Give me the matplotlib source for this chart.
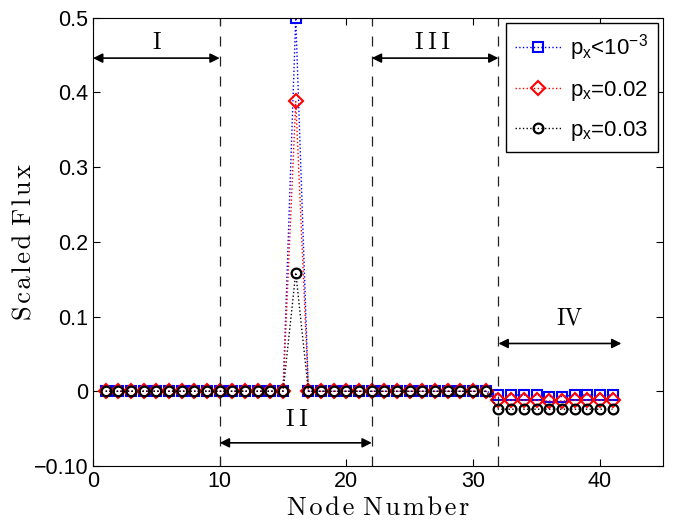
import numpy as np
import matplotlib
matplotlib.use("Agg")
import matplotlib.pyplot as plt

# node numbers and scaled flux for the three cases
nodes = np.arange(1, 42)
flux_small = [0.0] * 15 + [0.5] + [0.0] * 15 + [-0.005, -0.005, -0.005, -0.005, -0.007,
                                              -0.007, -0.005, -0.005, -0.005, -0.005]
flux_002 = [0.0] * 15 + [0.388] + [0.0] * 15 + [-0.012, -0.012, -0.012, -0.012, -0.013,
                                               -0.013, -0.012, -0.012, -0.012, -0.012]
flux_003 = [0.0] * 15 + [0.159] + [0.0] * 15 + [-0.024] * 10

labels = [r'$\mathregular{p_x}$<10$^{\mathregular{-3}}$',
          r'$\mathregular{p_x}$=0.02',
          r'$\mathregular{p_x}$=0.03']

# region boundaries and annotated spans
boundaries = [10, 22, 32]
regions = ['I', 'I\u2009I', 'I\u2009I\u2009I', 'IV']
region_spans = [(0, 10), (10, 22), (22, 32), (32, 41.7)]
arrow_y = [0.446, -0.069, 0.446, 0.064]
label_x = [5.0, 16.1, 26.8, 37.6]
label_y = [0.451, -0.053, 0.451, 0.083]

yticks = [-0.1, 0, 0.1, 0.2, 0.3, 0.4, 0.5]
ytick_labels = ['\u22120.10', '0', '0.1', '0.2', '0.3', '0.4', '0.5']
xticks = [0, 10, 20, 30, 40]

plt.rcParams['font.family'] = ['Liberation Sans', 'DejaVu Sans']
plt.rcParams['mathtext.fontset'] = 'custom'
plt.rcParams['mathtext.rm'] = 'Liberation Sans'
plt.rcParams['mathtext.it'] = 'Liberation Sans'

serif = ['cmr10', 'DejaVu Serif']


def spaced(s):
    # a little letter spacing inside each word
    return ' '.join('\u200a'.join(w) for w in s.split(' '))


fig = plt.figure(figsize=(6.74, 5.23), dpi=100)
ax = fig.add_axes([0.138, 0.109, 0.846, 0.857])

ax.plot(nodes, flux_small, ':', color='blue', marker='s', ms=7, mfc='none',
        mew=1.5, lw=1, label=labels[0])
ax.plot(nodes, flux_002, ':', color='red', marker='D', ms=7, mfc='none',
        mew=1.5, lw=1, label=labels[1])
ax.plot(nodes, flux_003, ':', color='black', marker='o', ms=7, mfc='none',
        mew=1.6, lw=1, label=labels[2])

for b in boundaries:
    ax.axvline(b, color='#222222', ls=(0, (8, 8)), lw=0.9)

for name, (x0, x1), ya, xl, yl in zip(regions, region_spans, arrow_y, label_x, label_y):
    ax.annotate('', xy=(x0, ya), xytext=(x1, ya),
                arrowprops=dict(arrowstyle='<|-|>', color='black', lw=1.2,
                                mutation_scale=14, shrinkA=0, shrinkB=0))
    ax.text(xl, yl, name, family=serif, fontsize=17, ha='center', va='bottom')

ax.set_xlim(0, 45)
ax.set_ylim(-0.1, 0.5)
ax.set_xticks(xticks)
ax.set_yticks(yticks)
ax.set_yticklabels(ytick_labels)
ax.tick_params(direction='in', top=True, right=True, labelsize=15.5, length=5)

ax.set_xlabel(spaced('Node Number'), family=serif, fontsize=19, labelpad=3)
ax.set_ylabel(spaced('Scaled Flux'), family=serif, fontsize=19, labelpad=-2)

leg = ax.legend(loc='upper right', fontsize=16, handlelength=2.1, labelspacing=0.72,
                handletextpad=0.4, borderaxespad=0.25, fancybox=False,
                edgecolor='black', framealpha=1)
leg.get_frame().set_linewidth(1)

fig.savefig('out.png', dpi=100)
